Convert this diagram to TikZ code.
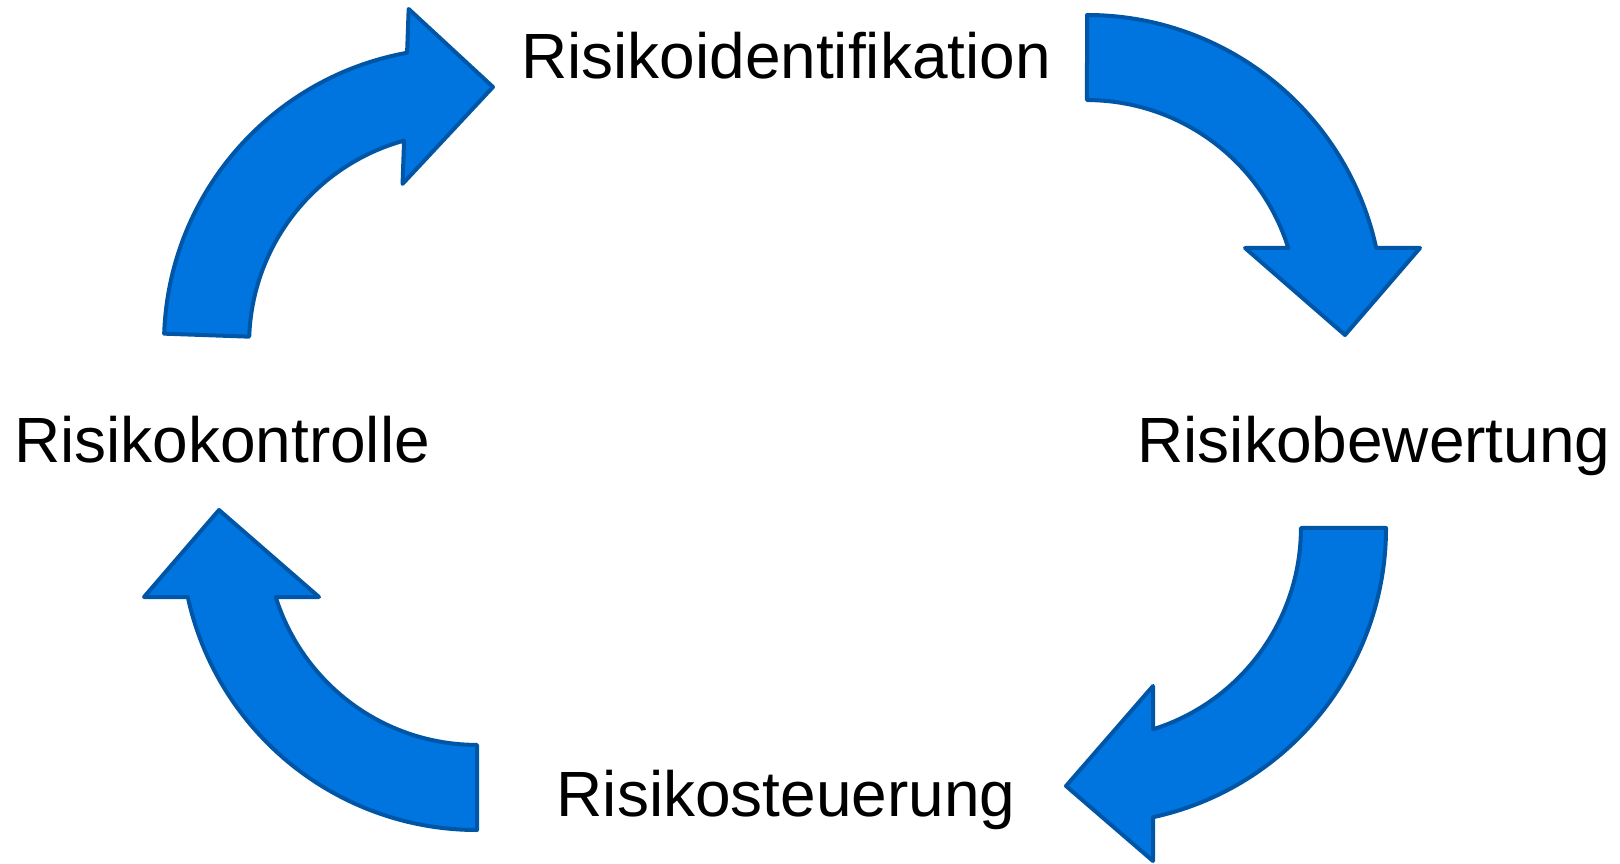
\documentclass[tikz,border=0pt]{standalone}
\usepackage{fontspec}
\setmainfont{Liberation Sans}
\usepackage{xcolor}
\usepackage{tikz}
\definecolor{pfeilblau}{RGB}{0,116,223}
\definecolor{pfeilrand}{RGB}{0,86,166}
\tikzset{
  pfeil/.style={fill=pfeilblau, draw=pfeilrand, line width=0.04cm, line join=round},
  phase/.style={font=\fontsize{18.2pt}{22pt}\selectfont, inner sep=0pt, anchor=base}
}

\begin{document}
\begin{tikzpicture}
        \useasboundingbox (0,0) rectangle (16.2,8.63);

        \node[phase] (ident)     at (7.86,7.84) {Risikoidentifikation};
        \node[phase] (bewertung) at (13.74,4.00) {Risikobewertung};
        \node[phase] (steuerung) at (7.86,0.47) {Risikosteuerung};
        \node[phase] (kontrolle) at (2.22,4.00) {Risikokontrolle};

        \coordinate (m1) at (10.87,5.52);
        \coordinate (m2) at (10.90,3.35);
        \coordinate (m3) at (4.77,3.29);
        \coordinate (m4) at (4.60,5.19);

        \draw[pfeil, shift={(m1)}, rotate=0] (0,2.96) arc[start angle=90, end angle=12.3, radius=2.96] -- (3.33,0.63) -- (2.58,-0.24) -- (1.58,0.63) -- (2.013,0.63) arc[start angle=17.4, end angle=90, radius=2.11] -- cycle;
        \draw[pfeil, shift={(m2)}, rotate=-90] (0,2.96) arc[start angle=90, end angle=12.3, radius=2.96] -- (3.33,0.63) -- (2.58,-0.24) -- (1.58,0.63) -- (2.013,0.63) arc[start angle=17.4, end angle=90, radius=2.11] -- cycle;
        \draw[pfeil, shift={(m3)}, rotate=180] (0,2.96) arc[start angle=90, end angle=12.3, radius=2.96] -- (3.33,0.63) -- (2.58,-0.24) -- (1.58,0.63) -- (2.013,0.63) arc[start angle=17.4, end angle=90, radius=2.11] -- cycle;
        \draw[pfeil, shift={(m4)}, rotate=88] (0,2.96) arc[start angle=90, end angle=12.3, radius=2.96] -- (3.33,0.63) -- (2.58,-0.24) -- (1.58,0.63) -- (2.013,0.63) arc[start angle=17.4, end angle=90, radius=2.11] -- cycle;
\end{tikzpicture}
\end{document}
